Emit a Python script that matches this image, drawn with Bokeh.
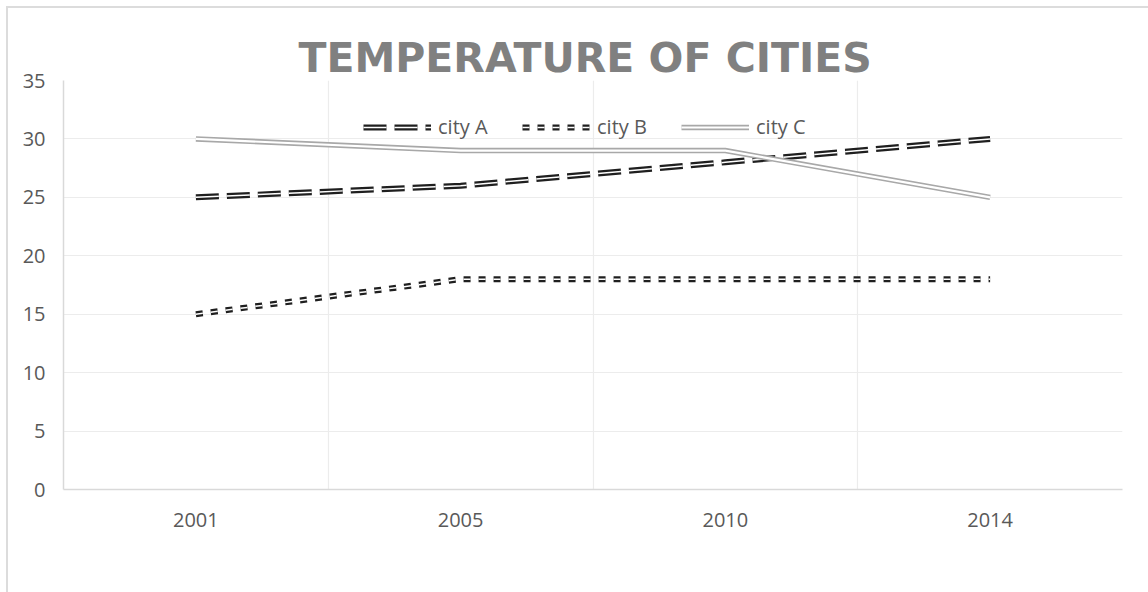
from bokeh.plotting import figure
from bokeh.models import Range1d, FixedTicker, Legend, LegendItem
from bokeh.embed import file_html
from bokeh.resources import INLINE

# ---- data ----
years = ["2001", "2005", "2010", "2014"]
city_a = [25, 26, 28, 30]
city_b = [15, 18, 18, 18]
city_c = [30, 29, 29, 25]
series_names = ["city A", "city B", "city C"]
y_ticks = [0, 5, 10, 15, 20, 25, 30, 35]
title_text = "TEMPERATURE OF CITIES"

xs = list(range(1, len(years) + 1))
FONT = "Open Sans"

p = figure(width=1148, height=592, output_backend="svg", toolbar_location=None,
           x_range=Range1d(0.5, len(years) + 0.5), y_range=Range1d(0, 35),
           min_border_left=63, min_border_right=26, min_border_top=80,
           min_border_bottom=103, title=title_text)
p.styles = {"box-shadow": "inset 6px 6px 0 0 white, inset 8px 8px 0 0 #dcdcdc"}
p.outline_line_color = None
p.background_fill_color = "white"
p.border_fill_color = None

# title
p.title.align = "left"
p.title.offset = 235
p.title.standoff = -2
p.title.text_font = "DejaVu Sans"
p.title.text_font_size = "41px"
p.title.text_font_style = "bold"
p.title.text_color = "#808080"

# axes
p.xaxis.ticker = FixedTicker(ticks=xs)
p.xaxis.major_label_overrides = {x: y for x, y in zip(xs, years)}
p.yaxis.ticker = FixedTicker(ticks=y_ticks)
for ax in (p.xaxis[0], p.yaxis[0]):
    ax.axis_line_color = "#d9d9d9"
    ax.axis_line_width = 1.5
    ax.major_tick_line_color = None
    ax.minor_tick_line_color = None
    ax.major_label_text_font = FONT
    ax.major_label_text_font_size = "20px"
    ax.major_label_text_color = "#595959"
p.yaxis.major_label_standoff = 12
p.xaxis.major_label_standoff = 17

# grids
p.ygrid.ticker = FixedTicker(ticks=y_ticks)
p.ygrid.grid_line_color = "#ececec"
p.ygrid.grid_line_width = 1.2
p.xgrid.ticker = FixedTicker(ticks=[x + 0.5 for x in xs])
p.xgrid.grid_line_color = "#ececec"
p.xgrid.grid_line_width = 1.2

# double (compound) lines
styles = [
    (city_a, "#1f1f1f", 6, "23 8", 1.5),
    (city_b, "#1f1f1f", 6, "7 8", 1.5),
    (city_c, "#a8a8a8", 5.5, "solid", 2.2),
]
items = []
for name, (vals, col, w, dash, inner_w) in zip(series_names, styles):
    outer = p.line(xs, vals, line_color=col, line_width=w, line_dash=dash,
                   line_join="miter")
    inner = p.line(xs, vals, line_color="white", line_width=inner_w,
                   line_dash=dash, line_join="miter")
    items.append(LegendItem(label=name, renderers=[outer, inner]))

legend = Legend(items=items, orientation="horizontal", location=(300, 349),
                padding=0, margin=0, spacing=30, glyph_width=68,
                glyph_height=24, label_height=24, label_width=54,
                label_standoff=7, border_line_color=None,
                background_fill_alpha=0,
                label_text_font=FONT, label_text_font_size="20px",
                label_text_color="#595959")
p.add_layout(legend, "center")

open("out.html", "w").write(file_html(p, INLINE))
